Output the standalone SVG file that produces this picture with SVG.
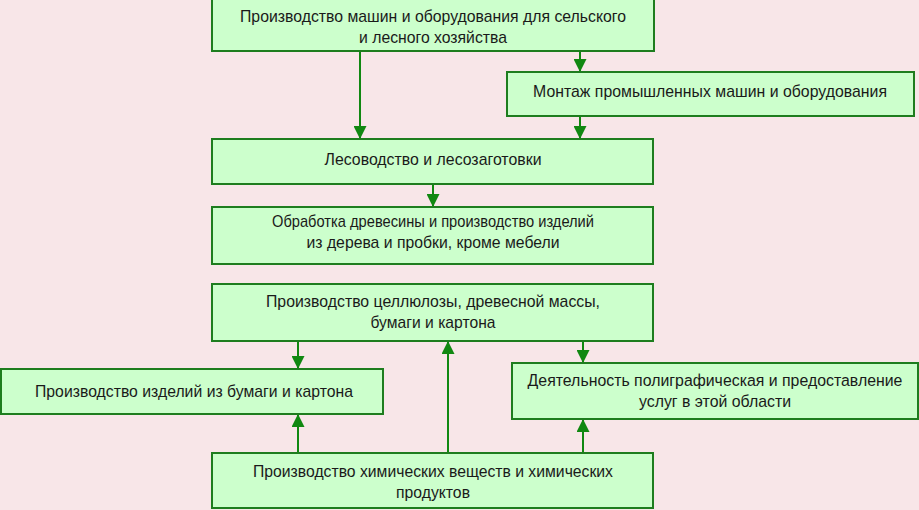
<svg xmlns="http://www.w3.org/2000/svg" width="919" height="510" viewBox="0 0 919 510">
<style>
.bg{fill:#F8E6E8}
.box{fill:#CCFFCC;stroke:#1E7D1E;stroke-width:2}
.t{font-family:"Liberation Sans",Arial,sans-serif;font-size:17px;fill:#1a1a1a;text-anchor:middle}
.c{stroke:#118811;stroke-width:2;fill:none;marker-end:url(#ah)}
</style>
<defs>
<marker id="ah" viewBox="0 0 13 13" refX="13" refY="6.5" markerWidth="13" markerHeight="13" markerUnits="userSpaceOnUse" orient="auto">
<path d="M0,0 L13,6.5 L0,13 z" fill="#118811"/>
</marker>
</defs>
<rect class="bg" x="0" y="0" width="919" height="510"/>
<g id="connectors">
<path class="c" d="M360,51 V139"/>
<path class="c" d="M580,51 V72"/>
<path class="c" d="M580,116 V139"/>
<path class="c" d="M433,184 V207"/>
<path class="c" d="M298,341 V369"/>
<path class="c" d="M448,453 V341"/>
<path class="c" d="M583,341 V363"/>
<path class="c" d="M298,453 V414"/>
<path class="c" d="M583,453 V419"/>
</g>
<g id="n1">
<rect class="box" x="212" y="-1" width="442" height="52"/>
<text class="t" x="433" y="22" textLength="386" lengthAdjust="spacingAndGlyphs">Производство машин и оборудования для сельского</text>
<text class="t" x="433" y="43" textLength="148" lengthAdjust="spacingAndGlyphs">и лесного хозяйства</text>
</g>
<g id="n2">
<rect class="box" x="507" y="72" width="407" height="44"/>
<text class="t" x="710" y="97" textLength="354" lengthAdjust="spacingAndGlyphs">Монтаж промышленных машин и оборудования</text>
</g>
<g id="n3">
<rect class="box" x="212" y="139" width="441" height="45"/>
<text class="t" x="433" y="165" textLength="217" lengthAdjust="spacingAndGlyphs">Лесоводство и лесозаготовки</text>
</g>
<g id="n4">
<rect class="box" x="212" y="207" width="441" height="57"/>
<text class="t" x="433" y="227" textLength="322" lengthAdjust="spacingAndGlyphs">Обработка древесины и производство изделий</text>
<text class="t" x="433" y="248" textLength="253" lengthAdjust="spacingAndGlyphs">из дерева и пробки, кроме мебели</text>
</g>
<g id="n5">
<rect class="box" x="212" y="284" width="441" height="57"/>
<text class="t" x="433" y="307" textLength="334" lengthAdjust="spacingAndGlyphs">Производство целлюлозы, древесной массы,</text>
<text class="t" x="433" y="328" textLength="125" lengthAdjust="spacingAndGlyphs">бумаги и картона</text>
</g>
<g id="n6">
<rect class="box" x="1" y="369" width="382" height="45"/>
<text class="t" x="194" y="397" textLength="318" lengthAdjust="spacingAndGlyphs">Производство изделий из бумаги и картона</text>
</g>
<g id="n7">
<rect class="box" x="512" y="363" width="406" height="56"/>
<text class="t" transform="translate(715,386) scale(0.85,1)" x="0" y="0" textLength="441" lengthAdjust="spacingAndGlyphs">Деятельность полиграфическая и предоставление</text>
<text class="t" x="715" y="407" textLength="152" lengthAdjust="spacingAndGlyphs">услуг в этой области</text>
</g>
<g id="n8">
<rect class="box" x="212" y="453" width="441" height="55"/>
<text class="t" x="433" y="477" textLength="360" lengthAdjust="spacingAndGlyphs">Производство химических веществ и химических</text>
<text class="t" x="433" y="498" textLength="74" lengthAdjust="spacingAndGlyphs">продуктов</text>
</g>
</svg>
